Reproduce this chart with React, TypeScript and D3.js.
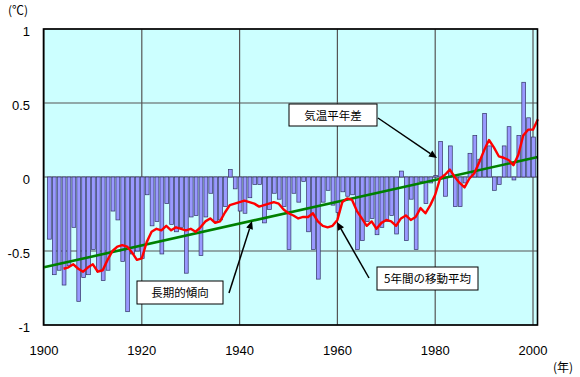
import React from "react";
import * as d3 from "d3";

const barYears: number[] = d3.range(1901, 2001);
const anomalies: number[] = [
  -0.42, -0.66, -0.63, -0.73, -0.60, -0.34, -0.84, -0.68, -0.66, -0.49,
  -0.64, -0.70, -0.63, -0.23, -0.29, -0.57, -0.91, -0.52, -0.50, -0.55,
  -0.12, -0.33, -0.30, -0.52, -0.18, -0.32, -0.37, -0.34, -0.65, -0.27,
  -0.26, -0.53, -0.27, -0.11, -0.30, -0.29, -0.20, 0.05, -0.08, -0.23,
  -0.245, -0.14, -0.05, -0.05, -0.31, -0.22, -0.11, -0.15, -0.20, -0.49,
  -0.11, -0.17, -0.03, -0.37, -0.49, -0.69, -0.17, -0.09, -0.19, -0.24,
  -0.10, -0.13, -0.12, -0.49, -0.43, -0.30, -0.28, -0.39, -0.34, -0.30,
  -0.26, -0.385, 0.04, -0.43, -0.15, -0.49, -0.03, -0.18, -0.04, 0.01,
  0.24, -0.13, 0.21, -0.20, -0.20, -0.04, 0.16, 0.28, 0.12, 0.43,
  0.21, -0.09, -0.05, 0.21, 0.34, -0.02, 0.28, 0.64, 0.40, 0.27,
];

const maYears: number[] = d3.range(1904, 2002);
const movingAvg: number[] = [
  -0.62, -0.61, -0.59, -0.62, -0.64, -0.61, -0.59, -0.64, -0.63, -0.56,
  -0.50, -0.47, -0.46, -0.47, -0.51, -0.56, -0.55, -0.44, -0.37, -0.35,
  -0.36, -0.33, -0.36, -0.34, -0.35, -0.36, -0.35, -0.37, -0.34, -0.30,
  -0.28, -0.31, -0.30, -0.24, -0.19, -0.18, -0.17, -0.16, -0.17, -0.18,
  -0.20, -0.19, -0.18, -0.17, -0.18, -0.22, -0.245, -0.26, -0.28, -0.27,
  -0.27, -0.245, -0.30, -0.33, -0.34, -0.33, -0.29, -0.17, -0.145, -0.155,
  -0.23, -0.28, -0.33, -0.30, -0.35, -0.31, -0.29, -0.30, -0.33, -0.28,
  -0.26, -0.29, -0.27, -0.21, -0.245, -0.19, -0.12, -0.01, 0.015, 0.05,
  0.0, -0.04, -0.07, -0.01, 0.025, 0.10, 0.18, 0.25, 0.20, 0.14,
  0.13, 0.115, 0.08, 0.15, 0.28, 0.32, 0.32, 0.39,
];

const trendYears: number[] = [1900, 2001];
const trendValues: number[] = [-0.61, 0.135];

const yTicks: number[] = [1, 0.5, 0, -0.5, -1];
const yTickLabels: string[] = ["1", "0.5", "0", "-0.5", "-1"];
const xTicks: number[] = [1900, 1920, 1940, 1960, 1980, 2000];

const W = 580;
const H = 377;
const plotL = 43.5;
const plotR = 537.5;
const plotT = 29;
const plotB = 325;

export default function App() {
  const x = d3.scaleLinear().domain([1900, 2000]).range([44, 533]);
  const y = d3.scaleLinear().domain([-1, 1]).range([plotB, plotT]);
  const bw = 3.8;

  const maLine = d3
    .line<number>()
    .x((_, i) => x(maYears[i]))
    .y((d) => y(d))
    .curve(d3.curveLinear)(movingAvg) as string;

  const trendLine = d3
    .line<number>()
    .x((_, i) => x(trendYears[i]))
    .y((d) => y(d))(trendValues) as string;

  const numFont = "'Liberation Sans', Arial, sans-serif";
  const jpFont = "'Noto Sans CJK JP', sans-serif";

  const arrow = (x1: number, y1: number, x2: number, y2: number, key: string) => {
    const ang = Math.atan2(y2 - y1, x2 - x1);
    const len = 8;
    const wid = 3.5;
    const bx = x2 - len * Math.cos(ang);
    const by = y2 - len * Math.sin(ang);
    const px = -Math.sin(ang) * wid;
    const py = Math.cos(ang) * wid;
    return (
      <g key={key}>
        <line x1={x1} y1={y1} x2={bx} y2={by} stroke="#000" strokeWidth={1.5} />
        <path d={`M${x2},${y2} L${bx + px},${by + py} L${bx - px},${by - py} Z`} fill="#000" />
      </g>
    );
  };

  return (
    <svg
      width={W}
      height={H}
      style={{ position: "absolute", left: 0, top: 0, background: "#fff" }}
    >
      <rect x={plotL} y={plotT} width={plotR - plotL} height={plotB - plotT} fill="#CCFFFF" />
      {yTicks.map((t) => (
        <line key={"gy" + t} x1={plotL} x2={plotR} y1={y(t)} y2={y(t)} stroke="#555" strokeWidth={1.2} />
      ))}
      {xTicks.map((t) => (
        <line key={"gx" + t} x1={x(t)} x2={x(t)} y1={plotT} y2={plotB} stroke="#555" strokeWidth={1.2} />
      ))}
      {anomalies.map((v, i) => {
        const y0 = y(0);
        const yv = y(v);
        return (
          <rect
            key={"b" + i}
            x={x(barYears[i]) + 0.5 - bw / 2}
            y={Math.min(y0, yv)}
            width={bw}
            height={Math.abs(yv - y0)}
            fill="#9999FF"
            stroke="#333366"
            strokeWidth={0.7}
          />
        );
      })}
      <path d={trendLine} stroke="#008000" strokeWidth={2.6} fill="none" />
      <path d={maLine} stroke="#FF0000" strokeWidth={2.4} fill="none" strokeLinejoin="round" />
      <rect x={plotL} y={plotT} width={plotR - plotL} height={plotB - plotT} fill="none" stroke="#000" strokeWidth={1.6} />

      {yTicks.map((t, i) => (
        <text key={"ty" + t} x={30} y={y(t) + 7} textAnchor="end" fontFamily={numFont} fontSize={13} fill="#000">
          {yTickLabels[i]}
        </text>
      ))}
      {xTicks.map((t) => (
        <text key={"tx" + t} x={x(t)} y={355} textAnchor="middle" fontFamily={numFont} fontSize={13} fill="#000">
          {t}
        </text>
      ))}
      <text x={8} y={15} fontFamily={jpFont} fontSize={12} fill="#000">(℃)</text>
      <text x={553} y={372} fontFamily={jpFont} fontSize={12} fill="#000">(年)</text>

      {arrow(378, 118, 437, 158, "a1")}
      {arrow(229, 293, 252, 221, "a2")}
      {arrow(369, 278, 337, 222, "a3")}

      <rect x={289} y={104} width={88} height={22} fill="#fff" stroke="#000" strokeWidth={1} />
      <text x={333} y={119.5} textAnchor="middle" fontFamily={jpFont} fontSize={11.5} fill="#000">気温平年差</text>
      <rect x={137} y={281} width={86} height={23} fill="#fff" stroke="#000" strokeWidth={1} />
      <text x={180} y={297} textAnchor="middle" fontFamily={jpFont} fontSize={11.5} fill="#000">長期的傾向</text>
      <rect x={377} y={267} width={101} height={23} fill="#fff" stroke="#000" strokeWidth={1} />
      <text x={427.5} y={283} textAnchor="middle" fontFamily={jpFont} fontSize={11.5} fill="#000">5年間の移動平均</text>
    </svg>
  );
}
